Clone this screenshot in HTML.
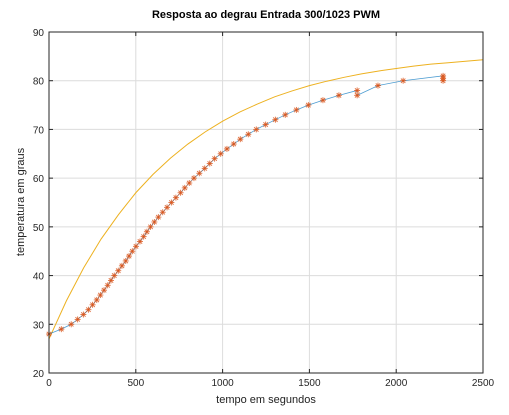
<!DOCTYPE html>
<html><head><meta charset="utf-8"><style>
html,body{margin:0;padding:0;background:#fff;}
svg{display:block;font-family:"Liberation Sans",sans-serif;}
</style></head><body>
<svg id="chart" width="509" height="415" viewBox="0 0 509 415" xmlns="http://www.w3.org/2000/svg">
<rect x="0" y="0" width="509" height="415" fill="#fff"/>
<text x="266" y="18" text-anchor="middle" font-size="11" font-weight="bold" fill="#000">Resposta ao degrau Entrada 300/1023 PWM</text>
<text x="266" y="403" text-anchor="middle" font-size="11" fill="#222">tempo em segundos</text>
<text transform="translate(24,202) rotate(-90)" text-anchor="middle" font-size="11" fill="#222">temperatura em graus</text>
<g id="grid"></g>
<g id="series"></g>
<g id="axes"></g>
</svg>
<script>
const xTicks=[0,500,1000,1500,2000,2500];
const yTicks=[20,30,40,50,60,70,80,90];
const modelTime=[0,100,200,300,400,500,600,700,800,900,1000,1100,1200,1300,1400,1500,1600,1700,1800,1900,2000,2100,2200,2300,2400,2500];
const modelTemp=[27,34.8,41.6,47.5,52.5,57.0,60.8,64.1,67.0,69.5,71.7,73.6,75.2,76.7,77.9,79.0,79.9,80.7,81.4,82.0,82.5,83.0,83.4,83.7,84.0,84.3];
const measTime=[0,71,128,165,198,227,251,275,296,317,338,357,376,399,420,442,461,480,501,524,545,564,585,607,630,655,680,705,731,758,782,808,835,866,897,926,954,989,1025,1064,1102,1148,1194,1248,1304,1361,1425,1494,1578,1670,1775,1775,1895,2040,2270,2270,2270];
const measTemp=[28,29,30,31,32,33,34,35,36,37,38,39,40,41,42,43,44,45,46,47,48,49,50,51,52,53,54,55,56,57,58,59,60,61,62,63,64,65,66,67,68,69,70,71,72,73,74,75,76,77,78,77,79,80,81,80.5,80];

const L=49,R=483,T=32,B=373;
const xS=v=>L+(v-0)/(2500-0)*(R-L);
const yS=v=>B-(v-20)/(90-20)*(B-T);
const NS="http://www.w3.org/2000/svg";
function mk(tag,attrs,parent){const e=document.createElementNS(NS,tag);for(const k in attrs)e.setAttribute(k,attrs[k]);parent.appendChild(e);return e;}
const grid=document.getElementById('grid'),ser=document.getElementById('series'),ax=document.getElementById('axes');

xTicks.forEach(v=>{
  const x=xS(v);
  const g=mk('line',{x1:x,x2:x,y1:T,y2:B,stroke:'#dcdcdc','stroke-width':1},grid);
  
  
  mk('line',{x1:x,x2:x,y1:B,y2:B-4,stroke:'#262626'},ax);
  mk('line',{x1:x,x2:x,y1:T,y2:T+4,stroke:'#262626'},ax);
  const t=mk('text',{x:x,y:B+13,'text-anchor':'middle','font-size':10,fill:'#262626'},ax);
  t.textContent=v;
  
  
});
yTicks.forEach(v=>{
  const y=yS(v);
  const g=mk('line',{x1:L,x2:R,y1:y,y2:y,stroke:'#dcdcdc','stroke-width':1},grid);
  
  
  mk('line',{x1:L,x2:L+4,y1:y,y2:y,stroke:'#262626'},ax);
  mk('line',{x1:R,x2:R-4,y1:y,y2:y,stroke:'#262626'},ax);
  const t=mk('text',{x:L-5,y:y+4,'text-anchor':'end','font-size':10,fill:'#262626'},ax);
  t.textContent=v;
  
  
});
const box=mk('rect',{x:L,y:T,width:R-L,height:B-T,fill:'none',stroke:'#262626','stroke-width':1},ax);



const mp=mk('polyline',{points:modelTime.map((t,i)=>xS(t)+','+yS(modelTemp[i])).join(' '),fill:'none',stroke:'#edb120','stroke-width':1},ser);


const bl=mk('polyline',{points:measTime.map((t,i)=>xS(t)+','+yS(measTemp[i])).join(' '),fill:'none',stroke:'#0072bd','stroke-width':0.8,'stroke-opacity':0.7},ser);


measTime.forEach((t,i)=>{
  const x=xS(t),y=yS(measTemp[i]),s=3;
  const g=mk('g',{stroke:'#d95319','stroke-width':0.9,'stroke-opacity':0.85},ser);
  
  
  mk('line',{x1:x-s,x2:x+s,y1:y,y2:y},g);
  mk('line',{x1:x,x2:x,y1:y-s,y2:y+s},g);
  mk('line',{x1:x-2.2,x2:x+2.2,y1:y-2.2,y2:y+2.2},g);
  mk('line',{x1:x-2.2,x2:x+2.2,y1:y+2.2,y2:y-2.2},g);
});
</script>
</body></html>
